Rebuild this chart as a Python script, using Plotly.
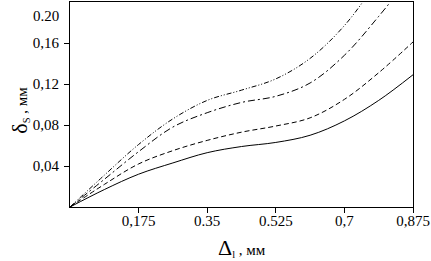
import plotly.graph_objects as go

x_vals = [0, 0.0875, 0.175, 0.2625, 0.35, 0.4375, 0.525, 0.6125, 0.7, 0.7875, 0.875]
s1_solid = [0, 0.017, 0.032, 0.043, 0.053, 0.059, 0.063, 0.070, 0.084, 0.104, 0.129]
s2_dash = [0, 0.022, 0.042, 0.055, 0.065, 0.073, 0.079, 0.087, 0.105, 0.131, 0.161]
s3_dashdot = [0, 0.027, 0.054, 0.078, 0.092, 0.102, 0.108, 0.121, 0.148, 0.186, 0.228]
s4_dashdotdot = [0, 0.031, 0.061, 0.086, 0.104, 0.114, 0.125, 0.145, 0.177, 0.222, 0.27]

x_ticks = [0.175, 0.35, 0.525, 0.7, 0.875]
x_ticktext = ["0,175", "0.35", "0.525", "0,7", "0,875"]
y_ticks = [0.04, 0.08, 0.12, 0.16]
y_ticktext = ["0,04", "0,08", "0,12", "0,16"]

series = [
    (s1_solid, "solid"),
    (s2_dash, "5px,3px"),
    (s3_dashdot, "7px,3px,2px,3px"),
    (s4_dashdotdot, "5px,2px,1px,2px,1px,2px"),
]

fig = go.Figure()
for ys, dash in series:
    fig.add_trace(go.Scatter(x=x_vals, y=ys, mode="lines",
                             line=dict(color="black", width=1, dash=dash, shape="spline", smoothing=1.0),
                             showlegend=False, hoverinfo="skip"))

font = dict(family="Liberation Serif, Times New Roman, serif", size=15, color="black")
fig.update_layout(
    width=431, height=261,
    margin=dict(l=70, r=7, t=1, b=54),
    paper_bgcolor="white", plot_bgcolor="white",
    font=font,
)
fig.update_xaxes(range=[0, 0.875], tickvals=x_ticks, ticktext=x_ticktext,
                 showline=True, mirror=True, linecolor="black", linewidth=1,
                 ticks="outside", ticklen=5, tickcolor="black", showgrid=False, zeroline=False,
                 tickfont=font, ticklabeloverflow="allow", ticklabelstandoff=-5)
fig.update_yaxes(range=[0, 0.2], tickvals=y_ticks, ticktext=y_ticktext,
                 showline=True, mirror=True, linecolor="black", linewidth=1,
                 ticks="outside", ticklen=5, tickcolor="black", showgrid=False, zeroline=False,
                 tickfont=font, ticklabelstandoff=2)

fig.add_annotation(x=0, y=0.2, xref="paper", yref="y", text="0.20", showarrow=False,
                   xanchor="right", yanchor="top", xshift=-9, yshift=-4, font=font)
fig.add_annotation(x=0.5, y=0, xref="paper", yref="paper",
                   text="<span style='font-size:22px'>Δ</span><sub>l</sub> , мм",
                   showarrow=False, xanchor="center", yanchor="top", yshift=-26, font=font)
fig.add_annotation(x=0, y=0.47, xref="paper", yref="paper",
                   text="<span style='font-size:22px'>δ</span><sub>S</sub> , мм",
                   showarrow=False, textangle=-90, xanchor="center", yanchor="middle",
                   xshift=-50, font=font)

fig.write_html("out.html", config={"displayModeBar": False},
               post_script="document.body.style.margin='0';document.body.style.overflow='hidden';")
